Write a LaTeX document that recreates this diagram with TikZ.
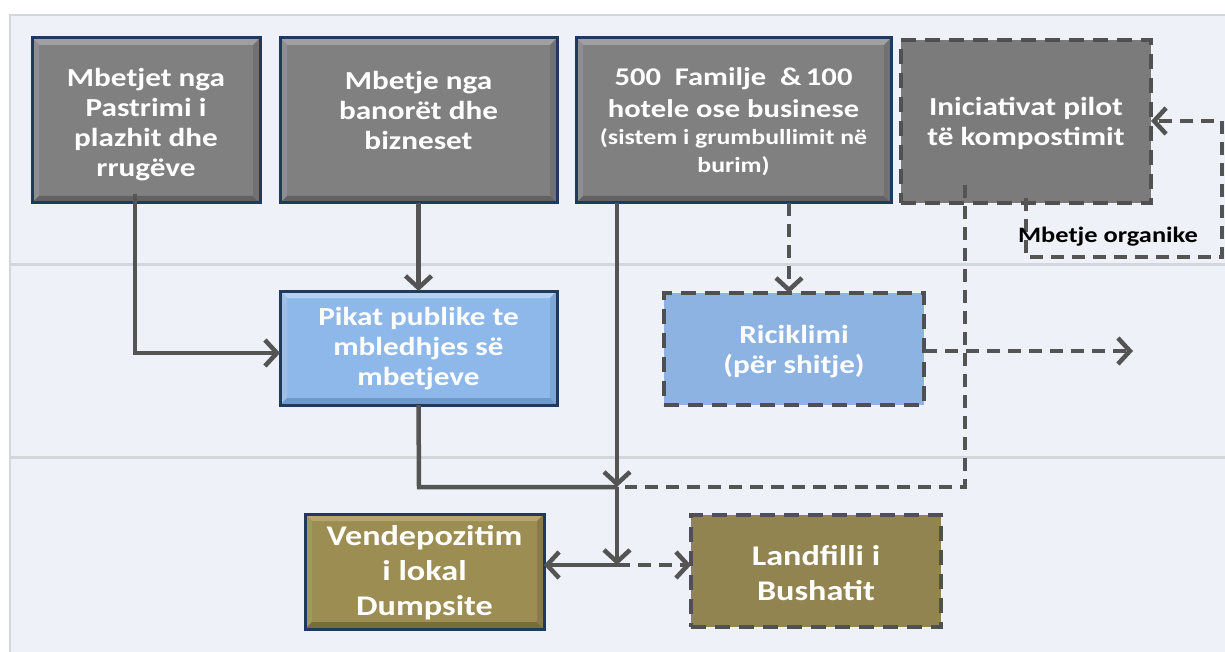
\documentclass[tikz,border=0pt]{standalone}
\usepackage{fontspec}
\usetikzlibrary{arrows.meta,calc}
\newfontfamily\bx{Carlito}[FakeStretch=1.2]
\definecolor{bgpanel}{HTML}{EEF2F8}
\definecolor{bandline}{HTML}{D3D6DB}
\definecolor{navy}{HTML}{1F3A5C}
\definecolor{conn}{HTML}{545454}
\definecolor{dashc}{HTML}{505050}
\definecolor{grayf}{HTML}{808080}
\definecolor{grayl}{HTML}{A0A0A0}
\definecolor{grayd}{HTML}{626262}
\definecolor{bluef}{HTML}{8EB8EA}
\definecolor{bluel}{HTML}{B4D0F2}
\definecolor{blued}{HTML}{7098C8}
\definecolor{ricf}{HTML}{8DB3E2}
\definecolor{olivef}{HTML}{9C8E52}
\definecolor{olivel}{HTML}{B4A76C}
\definecolor{olived}{HTML}{7A6D3C}
\definecolor{landf}{HTML}{928450}
\definecolor{initf}{HTML}{7B7B7B}
\newcommand\bevelbox[4]{%
  \fill[#2] (#1.north west) -- (#1.north east) -- ($(#1.north east)+(-#4,#4)$) -- ($(#1.north west)+(#4,#4)$) -- cycle;
  \fill[#2!70!#3] (#1.north west) -- (#1.south west) -- ($(#1.south west)+(#4,-#4)$) -- ($(#1.north west)+(#4,#4)$) -- cycle;
  \fill[#3] (#1.south west) -- (#1.south east) -- ($(#1.south east)+(-#4,-#4)$) -- ($(#1.south west)+(#4,-#4)$) -- cycle;
  \fill[#3!75!#2] (#1.north east) -- (#1.south east) -- ($(#1.south east)+(-#4,-#4)$) -- ($(#1.north east)+(-#4,#4)$) -- cycle;
  \draw[navy, line width=3pt] (#1.north west) rectangle (#1.south east);
}
\tikzset{
  boxbase/.style={rectangle, outer sep=0pt, inner sep=2pt, align=center, text=white,
    font=\bx\bfseries\fontsize{26}{30}\selectfont},
  solidbox/.style={boxbase, draw=navy, line width=3pt},
  dashbox/.style={boxbase, draw=dashc, line width=4.5pt, dash pattern=on 15pt off 9pt},
  conline/.style={draw=conn, line width=4.5pt},
  arr/.style={conline, -{Straight Barb[length=12pt,width=26pt]}},
  dashline/.style={conline, dash pattern=on 13pt off 8pt},
  darr/.style={dashline, -{Straight Barb[length=12pt,width=26pt]}},
}
\begin{document}
\begin{tikzpicture}[x=1pt,y=-1pt]
\useasboundingbox (0,0) rectangle (1225,652);
\fill[white] (0,0) rectangle (1225,652);
\fill[bgpanel] (10,15) rectangle (1226,653);
\draw[bandline, line width=2pt] (10,653) -- (10,15) -- (1226,15);
\draw[bandline, line width=3pt] (10,264) -- (1225,264);
\draw[bandline, line width=3pt] (10,457) -- (1225,457);

% boxes
\node[solidbox, fill=grayf, minimum width=228pt, minimum height=165pt] (b1) at (146,120.5) {};
\bevelbox{b1}{grayl}{grayd}{7}
\node[boxbase] (t1) at ($(b1)+(0,4)$) {Mbetjet nga\\Pastrimi i\\plazhit dhe\\rrugëve};

\node[solidbox, fill=grayf, minimum width=277pt, minimum height=165pt] (b2) at (418.5,120.5) {};
\bevelbox{b2}{grayl}{grayd}{7}
\node[boxbase] (t2) at ($(b2)+(0,-10)$) {Mbetje nga\\banorët dhe\\bizneset};

\node[solidbox, fill=grayf, minimum width=315pt, minimum height=165pt] (b3) at (733.5,120.5) {};
\bevelbox{b3}{grayl}{grayd}{7}
\node[boxbase, font=\bx\bfseries\fontsize{25.5}{32}\selectfont] (t3) at ($(b3)+(0,1)$) {500\ \ Familje \ \&\,100\\hotele ose businese\\[-5pt]{\fontsize{21.5}{26}\selectfont (sistem i grumbullimit në}\\[-4pt]{\fontsize{21.5}{26}\selectfont burim)}};

\node[dashbox, fill=initf, minimum width=250pt, minimum height=163pt] (b4) at (1026,121.5) {};
\node[boxbase] (t4) at ($(b4)+(0,2)$) {Iniciativat pilot\\të kompostimit};

\node[solidbox, fill=bluef, minimum width=277pt, minimum height=114pt] (pk) at (418.5,348) {};
\bevelbox{pk}{bluel}{blued}{7}
\node[boxbase] (tpk) at ($(pk)+(0,1)$) {Pikat publike te\\mbledhjes së\\mbetjeve};

\node[dashbox, fill=ricf, minimum width=260pt, minimum height=112pt] (ric) at (794,349) {};
\node[boxbase] (tric) at ($(ric)+(0,3)$) {Riciklimi\\(për shitje)};

\node[solidbox, fill=olivef, minimum width=239pt, minimum height=115pt] (vd) at (424.5,571.5) {};
\bevelbox{vd}{olivel}{olived}{7}
\node[boxbase, font=\bx\bfseries\fontsize{28.5}{35}\selectfont] (tvd) at ($(vd)+(0,1)$) {Vendepozitim\\i lokal\\Dumpsite};

\node[dashbox, fill=landf, minimum width=250pt, minimum height=112pt] (ld) at (816,571) {};
\node[boxbase, font=\bx\bfseries\fontsize{28.5}{35}\selectfont] (tld) at ($(ld)+(0,2)$) {Landfilli i\\Bushatit};

% coordinates
\coordinate (j1) at (617,487);
\coordinate (j2) at (617,565);
\coordinate (c1) at (135,194);
\coordinate (c1b) at (135,353);
\coordinate (pkb) at (419,487);
\coordinate (b3s) at (617,203);
\coordinate (b3d) at (789,203);
\coordinate (b4a) at (965,185);
\coordinate (b4ab) at (965,487);
\coordinate (ricend) at (1133,351);
\coordinate (o1) at (1026,198);
\coordinate (o2) at (1026,257);
\coordinate (o3) at (1222,257);
\coordinate (o4) at (1222,121);

% connectors
\draw[arr] (c1) -- (c1b) -- (c1b -| pk.west);
\draw[arr] (b2.south) -- (pk.north);
\draw[conline] (pk.south) -- (pkb) -- (j1);
\draw[dashline] (b4a) -- (b4ab) -- ([xshift=8pt]j1);
\draw[arr] (b3s) -- (j1);
\draw[arr] (j1) -- (j2);
\draw[arr] (j2) -- (j2 -| vd.east);
\draw[darr] (j2) -- (j2 -| ld.west);
\draw[darr] (b3d) -- (b3d |- ric.north);
\draw[darr] (ric.east |- ricend) -- (ricend);
\draw[darr] (o1) -- (o2) -- (o3) -- (o4) -- (o4 -| b4.east);
\node[font=\bx\bfseries\fontsize{22}{24}\selectfont, text=black, inner sep=0pt] (lbl) at (1108,237) {Mbetje organike};
\end{tikzpicture}
\end{document}
